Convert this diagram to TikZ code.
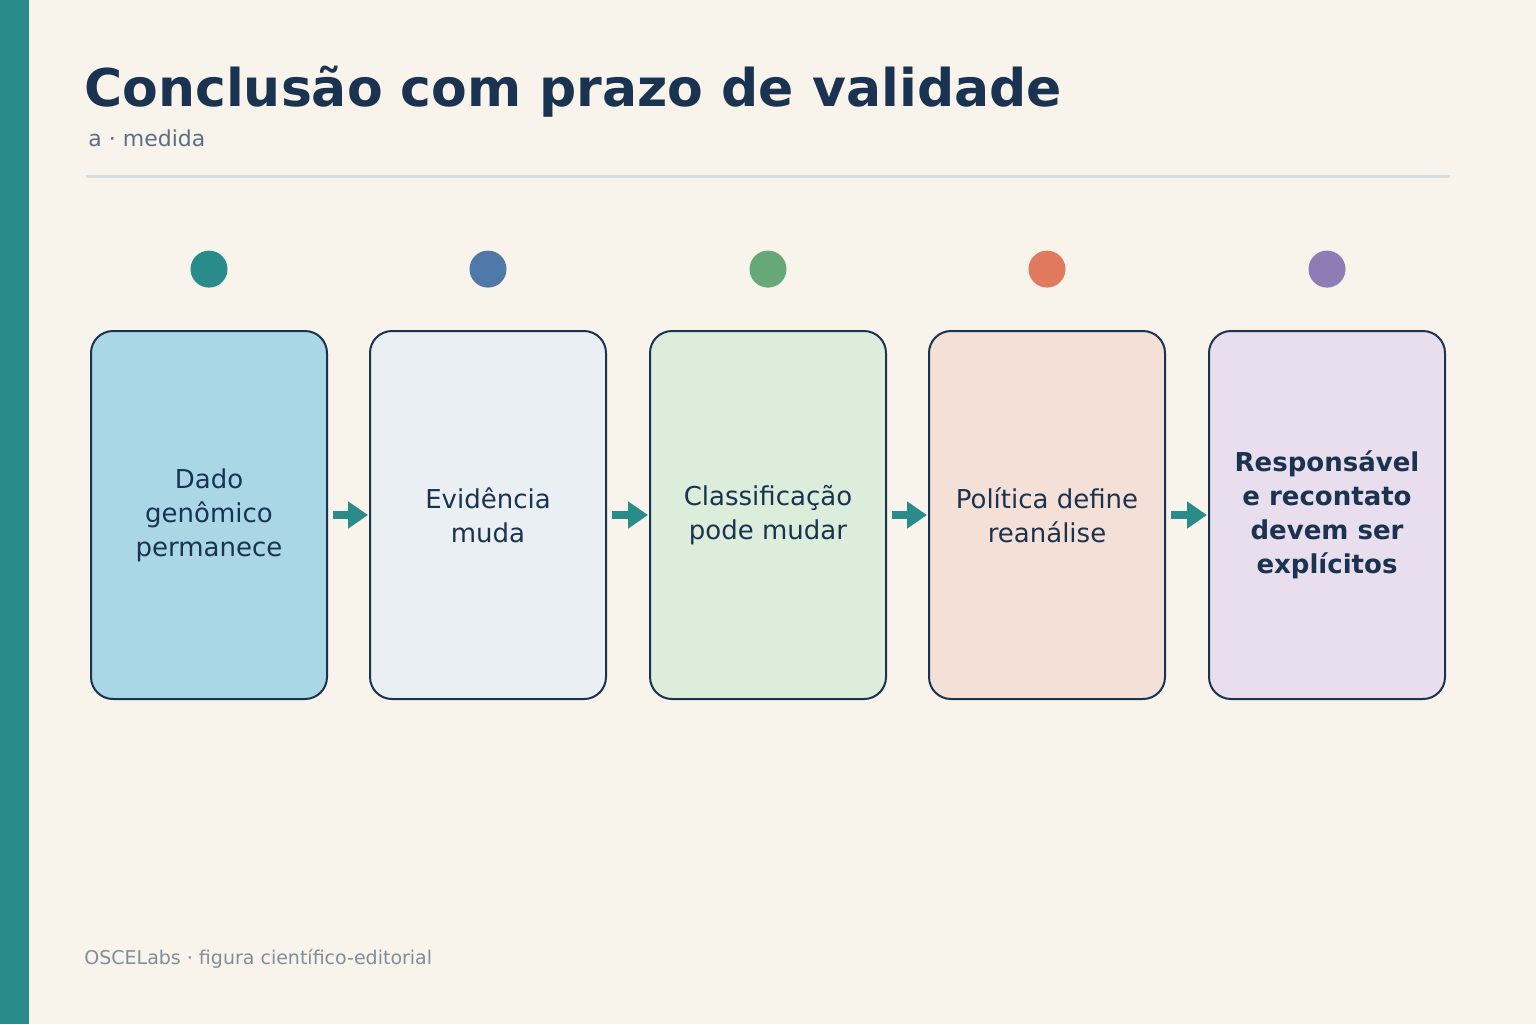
\documentclass[tikz,border=0pt]{standalone}
\usepackage{fontspec}
\setmainfont{DejaVu Sans}
\usetikzlibrary{positioning,arrows.meta}
\definecolor{bgc}{HTML}{F8F4EC}
\definecolor{teal}{HTML}{2A8C8A}
\definecolor{ink}{HTML}{1A3350}
\definecolor{sub}{HTML}{5B7083}
\definecolor{foot}{HTML}{7F8E9A}
\definecolor{rule}{HTML}{D3DEE0}
\definecolor{fA}{HTML}{AAD7E5}\definecolor{dA}{HTML}{2A8C8A}
\definecolor{fB}{HTML}{EAEFF3}\definecolor{dB}{HTML}{4E79A8}
\definecolor{fC}{HTML}{DDEDDB}\definecolor{dC}{HTML}{66A877}
\definecolor{fD}{HTML}{F4E0D7}\definecolor{dD}{HTML}{E07A5F}
\definecolor{fE}{HTML}{E9DEEE}\definecolor{dE}{HTML}{8F7BB5}
\begin{document}
\begin{tikzpicture}[x=0.5pt,y=-0.5pt,
  stage/.style={draw=ink, line width=1pt, rounded corners=11pt, minimum width=118pt, minimum height=184pt, align=center, text=ink, font=\fontsize{13}{17}\selectfont},
  dot/.style={circle, minimum size=18.5pt, inner sep=0pt},
  flow/.style={-{Triangle[length=10pt,width=13pt]}, teal, line width=4pt, shorten >=-2pt}]
\fill[bgc] (0,0) rectangle (1536,1024);
\useasboundingbox (0,0) rectangle (1536,1024);
\fill[teal] (0,0) rectangle (29,1024);
\node[anchor=base west, text=ink, font=\fontsize{26}{30}\selectfont\bfseries, inner sep=0pt] (title) at (84,106) {Conclusão com prazo de validade};
\node[anchor=base west, text=sub, font=\fontsize{11}{13}\selectfont, inner sep=0pt] (subtitle) at (88,146) {a · medida};
\draw[rule, line width=1.5pt] (86,176) -- (1450,176);
% stages
\node[stage, fill=fA] (s1) at (209,515) {Dado\\genômico\\permanece};
\node[stage, fill=fB] (s2) at (488,515) {Evidência\\muda};
\node[stage, fill=fC] (s3) at (768,515) {Classificação\\pode mudar};
\node[stage, fill=fD] (s4) at (1047,515) {Política define\\reanálise};
\node[stage, fill=fE, font=\fontsize{13}{17}\selectfont\bfseries] (s5) at (1327,515) {Responsável\\e recontato\\devem ser\\explícitos};
\foreach \i/\c in {1/dA,2/dB,3/dC,4/dD,5/dE}
  \node[dot, fill=\c, above=21pt of s\i] (d\i) {};
\foreach \a/\b in {1/2,2/3,3/4,4/5}
  \draw[flow] ([xshift=2.5pt]s\a.east) -- ([xshift=-2.5pt]s\b.west);
\node[anchor=base west, text=foot, font=\fontsize{9.5}{11}\selectfont, inner sep=0pt] (footer) at (84,964) {OSCELabs · figura científico-editorial};
\end{tikzpicture}
\end{document}
